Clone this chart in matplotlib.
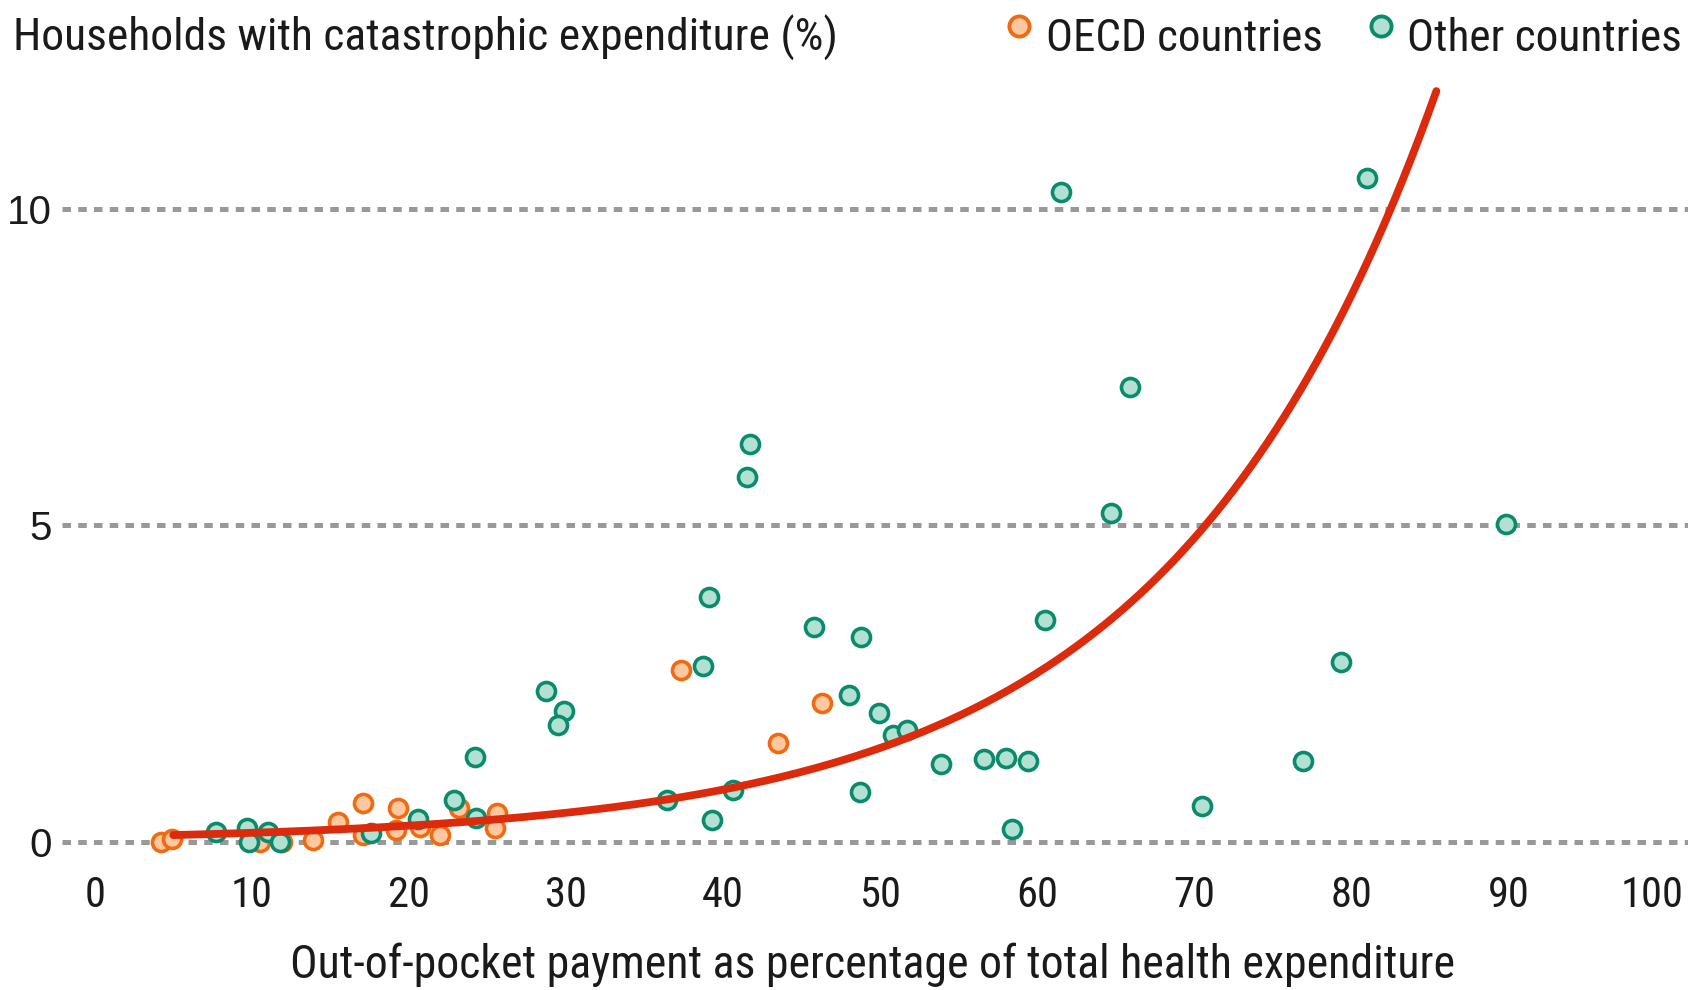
import numpy as np
import matplotlib.pyplot as plt
from matplotlib import transforms
from matplotlib import font_manager as fm
from matplotlib.lines import Line2D

plt.switch_backend("Agg")

# OECD countries: out-of-pocket share (%) vs households with catastrophic expenditure (%)
oecd_oop = [4.25, 4.9, 10.5, 11.9, 13.9, 15.5, 17.05, 17.1, 19.3, 19.2, 20.7, 22.0,
            23.2, 25.6, 25.5, 37.3, 43.5, 46.3]
oecd_cat = [0.0, 0.05, 0.0, 0.0, 0.03, 0.32, 0.61, 0.11, 0.53, 0.19, 0.24, 0.11,
            0.53, 0.45, 0.21, 2.71, 1.56, 2.19]

# Other countries
other_oop = [7.7, 9.7, 9.8, 11.05, 11.8, 17.6, 20.6, 22.9, 24.2, 24.3, 28.7, 29.9,
             29.5, 36.4, 38.7, 39.1, 39.3, 40.6, 41.5, 41.7, 45.8, 48.0, 48.8, 48.7,
             49.9, 50.8, 51.7, 53.9, 56.6, 58.0, 59.4, 58.4, 60.5, 61.5, 64.7, 65.9,
             70.5, 76.9, 79.3, 81.0, 89.85]
other_cat = [0.16, 0.22, 0.0, 0.16, 0.0, 0.14, 0.36, 0.66, 1.34, 0.37, 2.38, 2.06,
             1.85, 0.66, 2.77, 3.87, 0.35, 0.82, 5.76, 6.28, 3.40, 2.32, 3.24, 0.79,
             2.03, 1.69, 1.77, 1.23, 1.31, 1.32, 1.27, 0.20, 3.50, 10.27, 5.20, 7.18,
             0.57, 1.28, 2.84, 10.48, 5.02]

# fitted exponential trend y = a * exp(b * x)
fit_a = 0.0786
fit_b = 0.05874
fit_start, fit_end = 5.0, 85.4

x_ticks = [0, 10, 20, 30, 40, 50, 60, 70, 80, 90, 100]
y_ticks = [0, 5, 10]

TEXT = "#1a1a1a"
OECD_FACE, OECD_EDGE = "#fdc8a0", "#ee6b14"
OTHER_FACE, OTHER_EDGE = "#b2e0d3", "#0a8c6c"
RED = "#dc2a0c"
GRID = "#999999"


def narrow_font():
    # look for a condensed sans face, fall back to Liberation Sans
    fonts = [f for f in fm.fontManager.ttflist if f.style == "normal" and f.weight in (400, "normal")]
    for name in ["Liberation Sans Narrow", "Roboto Condensed", "Open Sans Condensed", "Arial Narrow"]:
        for f in fonts:
            if f.name == name:
                return fm.FontProperties(fname=f.fname)
    for stretch in ["condensed", "semi-condensed", "extra-condensed"]:
        for f in fonts:
            if f.stretch == stretch and "Mono" not in f.name and "Serif" not in f.name:
                return fm.FontProperties(fname=f.fname)
    for f in fonts:
        low = f.fname.lower()
        if ("condensed" in low or "narrow" in low) and "mono" not in low and "serif" not in low:
            return fm.FontProperties(fname=f.fname)
    return fm.FontProperties(family=["Liberation Sans", "DejaVu Sans"])


NARROW = narrow_font()
REGULAR = fm.FontProperties(family=["Liberation Sans", "DejaVu Sans"])

fig = plt.figure(figsize=(16.88, 9.9), dpi=100)
ax = fig.add_axes([0.03655, 0.12415, 0.9726, 0.8121])
ax.set_xlim(-2.1, 102.4)
ax.set_ylim(-0.4, 12.3)

for y in y_ticks:
    ax.axhline(y, color=GRID, lw=3.6, linestyle=(0, (1.7, 1.45)), zorder=1)

marker_kw = dict(marker="o", linestyle="none", markersize=13, markeredgewidth=2.6,
                 clip_on=False)
ax.plot(oecd_oop, oecd_cat, markerfacecolor=OECD_FACE, markeredgecolor=OECD_EDGE,
        zorder=3, **marker_kw)
ax.plot(other_oop, other_cat, markerfacecolor=OTHER_FACE, markeredgecolor=OTHER_EDGE,
        zorder=4, **marker_kw)

xs = np.linspace(fit_start, fit_end, 300)
ax.plot(xs, fit_a * np.exp(fit_b * xs), color=RED, lw=5.6, solid_capstyle="round",
        zorder=5, clip_on=False)

for side in ax.spines.values():
    side.set_visible(False)
ax.tick_params(axis="both", length=0)
ax.tick_params(axis="x", pad=6)
ax.tick_params(axis="y", pad=7)

renderer = fig.canvas.get_renderer()


def fit_size(text, target_px):
    w = text.get_window_extent(renderer).width
    text.set_fontsize(text.get_fontsize() * target_px / w)
    return text.get_fontsize()


# size the narrow tick labels so that "20" is about 42 px wide
probe = fig.text(0, 0, "20", fontproperties=NARROW, fontsize=35)
tick_size = fit_size(probe, 42)
probe.remove()

ax.set_xticks(x_ticks)
ax.set_xticklabels([str(t) for t in x_ticks], fontproperties=NARROW, color=TEXT)
for lab in ax.get_xticklabels():
    lab.set_fontsize(tick_size)
# the last label is pulled in so it stays inside the picture
last = ax.xaxis.get_major_ticks()[-1].label1
last.set_transform(last.get_transform()
                   + transforms.ScaledTranslation(-0.14, 0, fig.dpi_scale_trans))

ax.set_yticks(y_ticks)
ax.set_yticklabels([str(t) for t in y_ticks], fontproperties=REGULAR, color=TEXT)
for lab in ax.get_yticklabels():
    lab.set_fontsize(29)

title = fig.text(0.0077, 0.9489, "Households with catastrophic expenditure (%)",
                 fontproperties=NARROW, fontsize=37, color=TEXT, va="baseline", ha="left")
fit_size(title, 823)

trans = transforms.blended_transform_factory(ax.transData, fig.transFigure)
xlabel = fig.text(49.5, 0.0126, "Out-of-pocket payment as percentage of total health expenditure",
                  fontproperties=NARROW, fontsize=37, color=TEXT, va="baseline", ha="center",
                  transform=trans)
fit_size(xlabel, 1167)

# legend
legend_items = [(0.6039, 0.6199, OECD_FACE, OECD_EDGE, "OECD countries", 277),
                (0.8182, 0.8335, OTHER_FACE, OTHER_EDGE, "Other countries", 275)]
for mx, tx, face, edge, label, width in legend_items:
    fig.add_artist(Line2D([mx], [0.9739], marker="o", markersize=14.5,
                          markeredgewidth=2.8, markerfacecolor=face,
                          markeredgecolor=edge, transform=fig.transFigure))
    t = fig.text(tx, 0.9489, label, fontproperties=NARROW, fontsize=37, color=TEXT,
                 va="baseline", ha="left")
    fit_size(t, width)

fig.savefig("out.png", dpi=100)
plt.close(fig)
